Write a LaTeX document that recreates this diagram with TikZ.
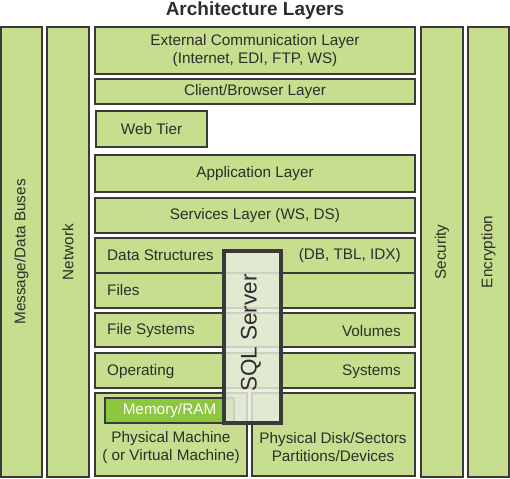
\documentclass[tikz,border=0pt]{standalone}
\usepackage{fontspec}
\setmainfont{Liberation Sans}
\definecolor{boxg}{RGB}{198,222,142}
\definecolor{memg}{RGB}{141,198,63}
\definecolor{linec}{RGB}{58,58,58}
\definecolor{txt}{RGB}{45,45,45}
\definecolor{sqlf}{RGB}{230,235,220}
\begin{document}
\begin{tikzpicture}[x=1pt,y=-1pt,
  lay/.style={draw=linec, fill=boxg, line width=2.4pt, inner sep=0pt, outer sep=0pt, anchor=north west, text=txt, align=center, font=\fontsize{15.3}{18.5}\selectfont},
  lbl/.style={text=txt, inner sep=0pt, font=\fontsize{15.3}{18.5}\selectfont},
  vlbl/.style={lbl, rotate=90}]
\useasboundingbox (0,0) rectangle (510,478);
\node[text=txt, font=\fontsize{19}{21}\selectfont\bfseries] (title) at (255,11) {Architecture Layers};
% side columns
\node[lay, minimum width=41pt, minimum height=450pt] (msg) at (1,27) {};
\node[vlbl] (msgt) at (msg.center) {Message/Data Buses};
\node[lay, minimum width=42pt, minimum height=450pt] (net) at (47,27) {};
\node[vlbl] (nett) at (net.center) {Network};
\node[lay, minimum width=42pt, minimum height=450pt] (sec) at (421,27) {};
\node[vlbl] (sect) at (sec.center) {Security};
\node[lay, minimum width=41pt, minimum height=450pt] (enc) at (468,27) {};
\node[vlbl] (enct) at (enc.center) {Encryption};
% layers
\node[lay, minimum width=320pt, minimum height=47pt] (ext) at (95,27) {External Communication Layer\\(Internet, EDI, FTP, WS)};
\node[lay, minimum width=320pt, minimum height=25pt] (cli) at (95,79) {Client/Browser Layer};
\node[lay, minimum width=111pt, minimum height=36pt] (web) at (96,111) {Web Tier};
\node[lay, minimum width=320pt, minimum height=37pt] (app) at (95,155) {Application Layer};
\node[lay, minimum width=320pt, minimum height=35pt] (svc) at (95,198) {Services Layer (WS, DS)};
\node[lay, minimum width=320pt, minimum height=35pt] (ds) at (95,238) {};
\node[lbl, anchor=west] (dst) at ([xshift=12pt]ds.west) {Data Structures};
\node[lbl, anchor=east] (dsr) at ([xshift=-14pt]ds.east) {(DB, TBL, IDX)};
\node[lay, minimum width=320pt, minimum height=35pt] (fil) at (95,273) {};
\node[lbl, anchor=west] (filt) at ([xshift=12pt]fil.west) {Files};
\node[lay, minimum width=320pt, minimum height=34pt] (fs) at (95,313) {};
\node[lbl, anchor=west] (fst) at ([xshift=12pt,yshift=-1pt]fs.west) {File Systems};
\node[lbl, anchor=east] (fsr) at ([xshift=-14pt,yshift=-1pt]fs.east) {Volumes};
\node[lay, minimum width=320pt, minimum height=35pt] (os) at (95,353) {};
\node[lbl, anchor=west] (ost) at ([xshift=12pt,yshift=-1pt]os.west) {Operating};
\node[lbl, anchor=east] (osr) at ([xshift=-14pt,yshift=-1pt]os.east) {Systems};
\node[lay, minimum width=152pt, minimum height=83pt] (pm) at (95,393) {};
\node[lbl, align=center, anchor=north] (pmt) at (171,431) {Physical Machine\\( or Virtual Machine)};
\node[lay, minimum width=163pt, minimum height=83pt] (pd) at (252,393) {};
\node[lbl, align=center, anchor=north] (pdt) at (333,432) {Physical Disk/Sectors\\Partitions/Devices};
\node[lay, fill=memg, text=white, minimum width=129pt, minimum height=25pt] (mem) at (105,398) {Memory/RAM};
% SQL Server overlay
\node[draw=linec, line width=4pt, fill=sqlf, fill opacity=0.85, text opacity=1, inner sep=0pt, anchor=north west, minimum width=57pt, minimum height=172pt] (sql) at (222,249) {};
\node[text=txt, rotate=90, inner sep=0pt, font=\fontsize{22.5}{24}\selectfont] (sqlt) at (251,333) {SQL Server};
\end{tikzpicture}
\end{document}
